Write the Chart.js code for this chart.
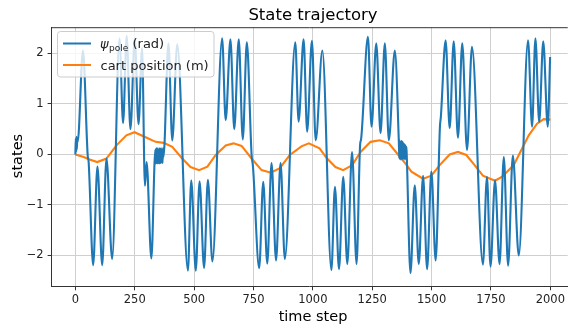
<!DOCTYPE html>
<html>
<head>
<meta charset="utf-8">
<script src="https://cdn.jsdelivr.net/npm/chart.js@4/dist/chart.umd.min.js"></script>
<style>
  html, body { margin: 0; padding: 0; background: #fff; }
  canvas { display: block; }
</style>
</head>
<body>
<canvas id="chart" width="568" height="324"></canvas>
<script>
// pole angle (mostly the turning points of the swing)
const psiSteps = [
  0, 2, 3, 5, 6, 8, 10, 32, 52, 56, 75, 93, 113, 131, 155,
  186, 201, 216, 232, 250, 266, 281, 293, 300, 320, 337,
  339, 341, 343, 345, 347, 349, 351, 353, 355, 357, 359, 361, 363, 365, 367, 369, 371,
  392, 408, 429, 474, 488, 507, 523, 542, 558, 577,
  618, 633, 653, 669, 688, 705, 722, 742, 748,
  774, 791, 808, 826, 845, 864, 882,
  926, 940, 961, 976, 996, 1012, 1040,
  1078, 1093, 1110, 1128, 1145, 1165, 1184, 1199, 1203,
  1232, 1247, 1267, 1285, 1303, 1320, 1345, 1362,
  1364, 1366, 1368, 1370, 1372, 1374, 1376, 1378, 1380, 1382, 1384, 1386, 1388, 1390, 1392, 1394, 1396,
  1411, 1429, 1446, 1464, 1481, 1499, 1517, 1535, 1539,
  1559, 1576, 1593, 1611, 1629, 1649, 1670,
  1716, 1733, 1748, 1767, 1786, 1804, 1822, 1842, 1867,
  1906, 1923, 1937, 1953, 1970, 1989, 1999
];
const psiValues = [
  0.0, 0.32, 0.05, 0.35, 0.1, 0.3, 0.25, 2.06, -0.02, -0.15, -2.19, -0.24, -2.19, -0.08, -2.07,
  2.3, 0.62, 2.35, 0.5, 2.3, 0.6, 2.1, -0.62, -0.15, -2.06, 0.1,
  -0.18, 0.12, -0.17, 0.12, -0.18, 0.1, -0.17, 0.12, -0.18, 0.11, -0.17, 0.12, -0.16, 0.1, -0.17, 0.12, -0.05,
  2.2, 0.28, 2.18, -2.3, -0.51, -2.3, -0.53, -2.25, -0.5, -2.12,
  2.3, 0.68, 2.28, 0.5, 2.28, 0.3, 2.22, 0.0, -0.25,
  -2.25, -0.54, -2.16, -0.17, -2.1, -0.17, -2.07,
  2.22, 0.65, 2.28, 0.45, 2.25, 0.28, 2.06,
  -2.29, -0.64, -2.27, -0.44, -2.17, 0.05, -2.17, 0.2, 0.3,
  2.33, 0.55, 2.2, 0.42, 2.2, 0.28, 2.06, 0.25,
  -0.08, 0.28, -0.1, 0.25, -0.08, 0.27, -0.1, 0.25, -0.06, 0.22, -0.1, 0.2, -0.08, 0.18, -0.1, 0.15, -0.12,
  -2.35, -0.61, -2.17, -0.42, -2.27, -0.34, -2.1, 0.55, 0.75,
  2.26, 0.52, 2.24, 0.33, 2.2, 0.09, 2.13,
  -2.18, -0.44, -2.22, -0.51, -2.17, -0.05, -2.2, -0.02, -2.0,
  2.26, 0.55, 2.3, 0.64, 2.24, 0.55, 1.93
];

// cart position
const cartSteps = [
  0, 35, 60, 92, 131, 173, 215, 249, 305, 338, 372, 408, 450, 485, 521, 556, 591, 633, 666,
  700, 742, 784, 823, 861, 903, 952, 983, 1028, 1060, 1095, 1128, 1166, 1201, 1243, 1282, 1320,
  1355, 1390, 1415, 1464, 1499, 1534, 1576, 1611, 1646, 1681, 1716, 1767, 1797, 1846, 1881,
  1909, 1944, 1972, 2000
];
const cartValues = [
  0.0, -0.05, -0.1, -0.15, -0.08, 0.18, 0.38, 0.44, 0.32, 0.25, 0.23, 0.15, -0.08, -0.25, -0.31, -0.24, -0.01, 0.18, 0.22,
  0.17, -0.08, -0.31, -0.36, -0.27, -0.01, 0.16, 0.22, 0.12, -0.08, -0.25, -0.31, -0.21, 0.05, 0.25, 0.28, 0.22,
  0.02, -0.18, -0.34, -0.48, -0.42, -0.21, 0.0, 0.05, -0.01, -0.21, -0.42, -0.52, -0.44, -0.21, 0.12,
  0.38, 0.61, 0.7, 0.69
];

const xTicks = [0, 250, 500, 750, 1000, 1250, 1500, 1750, 2000];
const yTicks = [-2, -1, 0, 1, 2];

const BLUE = '#1f77b4';
const ORANGE = '#ff7f0e';
const FONT = '"DejaVu Sans", sans-serif';

function toPoints(steps, values) {
  return steps.map((s, i) => ({ x: s, y: values[i] }));
}

// title, axis labels, top spine and the legend box (drawn inside the plot like matplotlib)
const decorations = {
  id: 'decorations',
  afterDatasetsDraw(chart) {
    const ctx = chart.ctx;
    const area = chart.chartArea;
    ctx.save();

    // top spine
    ctx.strokeStyle = '#333';
    ctx.lineWidth = 1;
    ctx.beginPath();
    ctx.moveTo(area.left, area.top + 0.5);
    ctx.lineTo(area.right, area.top + 0.5);
    ctx.stroke();

    // legend
    const lx = 57.5, ly = 31.5, lw = 156.5, lh = 45.5;
    ctx.fillStyle = 'rgba(255,255,255,0.8)';
    ctx.strokeStyle = '#cccccc';
    ctx.beginPath();
    ctx.roundRect(lx, ly, lw, lh, 3);
    ctx.fill();
    ctx.stroke();

    ctx.lineWidth = 2;
    ctx.strokeStyle = BLUE;
    ctx.beginPath();
    ctx.moveTo(63, 43.5);
    ctx.lineTo(91, 43.5);
    ctx.stroke();
    ctx.strokeStyle = ORANGE;
    ctx.beginPath();
    ctx.moveTo(63, 65);
    ctx.lineTo(91, 65);
    ctx.stroke();

    ctx.fillStyle = '#222';
    ctx.textBaseline = 'alphabetic';
    ctx.textAlign = 'left';
    ctx.font = 'italic 13px ' + FONT;
    ctx.fillText('ψ', 100, 48);
    let x = 100 + ctx.measureText('ψ').width + 0.5;
    ctx.font = '9px ' + FONT;
    ctx.fillText('pole', x, 51);
    x += ctx.measureText('pole').width;
    ctx.font = '13px ' + FONT;
    ctx.fillText(' (rad)', x, 48);
    ctx.fillText('cart position (m)', 100.5, 69.5);

    // title
    ctx.fillStyle = '#000';
    ctx.textAlign = 'center';
    ctx.font = '16.5px ' + FONT;
    ctx.fillText('State trajectory', 313, 20);

    // axis titles
    ctx.font = '14.5px ' + FONT;
    ctx.fillText('time step', 313, 321);
    ctx.translate(22, 156);
    ctx.rotate(-Math.PI / 2);
    ctx.fillText('states', 0, 0);

    ctx.restore();
  }
};

new Chart(document.getElementById('chart'), {
  type: 'line',
  data: {
    datasets: [
      {
        label: 'psi_pole (rad)',
        data: toPoints(psiSteps, psiValues),
        borderColor: BLUE,
        borderWidth: 2.1,
        pointRadius: 0,
        fill: false,
        cubicInterpolationMode: 'monotone'
      },
      {
        label: 'cart position (m)',
        data: toPoints(cartSteps, cartValues),
        borderColor: ORANGE,
        borderWidth: 2.1,
        pointRadius: 0,
        fill: false,
        tension: 0
      }
    ]
  },
  options: {
    responsive: false,
    animation: false,
    events: [],
    layout: { padding: { left: 0, right: 0, top: 27.2, bottom: 0 } },
    plugins: {
      legend: { display: false },
      title: { display: false },
      tooltip: { enabled: false }
    },
    scales: {
      x: {
        type: 'linear',
        min: -100,
        max: 2073,
        afterBuildTicks: (scale) => { scale.ticks = xTicks.map(v => ({ value: v })); },
        afterFit: (scale) => { scale.height = 37.7; },
        grid: { color: '#cfcfcf', lineWidth: 1, drawTicks: true, tickLength: 4, tickColor: '#333' },
        border: { display: true, color: '#333', width: 1 },
        ticks: {
          color: '#222',
          padding: 3,
          maxRotation: 0,
          font: { family: FONT, size: 11.5 },
          callback: (v) => String(v)
        }
      },
      y: {
        type: 'linear',
        min: -2.61,
        max: 2.52,
        afterBuildTicks: (scale) => { scale.ticks = yTicks.map(v => ({ value: v })); },
        afterFit: (scale) => { scale.width = 51.6; },
        grid: { color: '#cfcfcf', lineWidth: 1, drawTicks: true, tickLength: 4, tickColor: '#333' },
        border: { display: true, color: '#333', width: 1 },
        ticks: {
          color: '#222',
          padding: 4,
          font: { family: FONT, size: 11.5 },
          callback: (v) => (v < 0 ? '\u2212' + Math.abs(v) : String(v))
        }
      }
    }
  },
  plugins: [decorations]
});
</script>
</body>
</html>
